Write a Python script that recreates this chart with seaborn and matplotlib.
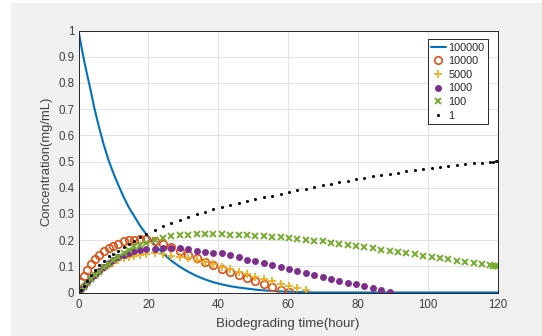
import matplotlib
matplotlib.use("Agg")
import matplotlib.pyplot as plt
import seaborn as sns
import pandas as pd

# ---- data ----
hours = [0, 0.8, 1.6, 2.5, 3.5, 4.6, 5.8, 7.2, 8.6, 10.0, 11.4, 12.9, 14.4, 16.0, 17.6, 19.4,
         21.8, 24.2, 26.6, 29.0, 31.4, 33.8, 36.2, 38.6, 41.0, 43.4, 45.8, 48.2, 50.6, 53.0,
         55.4, 57.8, 60.2, 62.6, 65.0, 67.4, 69.8, 72.2, 74.6, 77.0, 79.4, 81.8, 84.2, 86.6,
         89.0, 91.4, 93.8, 96.2, 98.6, 101.0, 103.4, 105.8, 108.2, 110.6, 113.0, 115.4, 117.8,
         118.6, 119.3, 120.0]

conc_100000 = [1.0, 0.94, 0.885, 0.83, 0.77, 0.70, 0.635, 0.565, 0.505, 0.455, 0.41, 0.365,
               0.325, 0.29, 0.255, 0.222, 0.182, 0.149, 0.121, 0.098, 0.079, 0.063, 0.050,
               0.039, 0.031, 0.024, 0.019, 0.015, 0.011, 0.008, 0.006, 0.004, 0.003, 0.002,
               0.001, 0, 0, 0, 0, 0, 0, 0, 0, 0, 0, 0, 0, 0, 0, 0, 0, 0, 0, 0, 0, 0, 0, 0,
               0, 0]

conc_10000 = [0, 0.04, 0.063, 0.086, 0.108, 0.128, 0.145, 0.157, 0.168, 0.178, 0.187, 0.195,
              0.199, 0.202, 0.204, 0.205, 0.198, 0.186, 0.175, 0.158, 0.143, 0.130, 0.118,
              0.105, 0.090, 0.078, 0.066, 0.054, 0.043, 0.031, 0.020, 0.011, 0.003]

conc_5000 = [0, 0.012, 0.025, 0.038, 0.052, 0.065, 0.078, 0.092, 0.104, 0.114, 0.123, 0.131,
             0.137, 0.141, 0.144, 0.147, 0.149, 0.146, 0.140, 0.136, 0.130, 0.123, 0.117,
             0.110, 0.099, 0.089, 0.080, 0.071, 0.061, 0.050, 0.042, 0.034, 0.026, 0.017, 0.008]

conc_1000 = [0, 0.013, 0.026, 0.040, 0.054, 0.068, 0.083, 0.099, 0.113, 0.124, 0.135, 0.145,
             0.152, 0.158, 0.162, 0.165, 0.166, 0.168, 0.169, 0.168, 0.165, 0.160, 0.156,
             0.152, 0.149, 0.143, 0.135, 0.125, 0.119, 0.112, 0.104, 0.097, 0.089, 0.081,
             0.074, 0.066, 0.058, 0.052, 0.044, 0.037, 0.031, 0.024, 0.016, 0.008, 0.002]

conc_100 = [0, 0.010, 0.022, 0.036, 0.050, 0.065, 0.080, 0.096, 0.110, 0.123, 0.136, 0.150,
            0.162, 0.173, 0.182, 0.190, 0.200, 0.209, 0.215, 0.219, 0.221, 0.222, 0.223,
            0.223, 0.222, 0.221, 0.219, 0.218, 0.217, 0.215, 0.213, 0.211, 0.208, 0.205,
            0.201, 0.198, 0.195, 0.189, 0.185, 0.181, 0.176, 0.173, 0.169, 0.164, 0.160,
            0.155, 0.150, 0.146, 0.140, 0.136, 0.132, 0.127, 0.122, 0.118, 0.114, 0.109,
            0.104, 0.102, 0.101, 0.100]

conc_1 = [0, 0.010, 0.025, 0.045, 0.065, 0.085, 0.105, 0.122, 0.138, 0.148, 0.158, 0.172,
          0.186, 0.198, 0.210, 0.222, 0.238, 0.254, 0.266, 0.277, 0.288, 0.299, 0.309, 0.318,
          0.326, 0.334, 0.342, 0.349, 0.356, 0.363, 0.370, 0.377, 0.383, 0.390, 0.396, 0.403,
          0.410, 0.416, 0.421, 0.427, 0.432, 0.438, 0.443, 0.448, 0.453, 0.458, 0.462, 0.467,
          0.471, 0.475, 0.479, 0.483, 0.487, 0.490, 0.493, 0.496, 0.499, 0.500, 0.501, 0.502]

x_ticks = [0, 20, 40, 60, 80, 100, 120]
y_ticks = [0, 0.1, 0.2, 0.3, 0.4, 0.5, 0.6, 0.7, 0.8, 0.9, 1]
y_tick_labels = ["0", "0.1", "0.2", "0.3", "0.4", "0.5", "0.6", "0.7", "0.8", "0.9", "1"]
x_label = "Biodegrading time(hour)"
y_label = "Concentration(mg/mL)"

# ---- style ----
sns.set_style("white")
plt.rcParams["font.family"] = ["Liberation Sans", "DejaVu Sans"]
axis_col = "#262626"
tick_col = "#404040"

fig = plt.figure(figsize=(5.42, 3.36), dpi=100)
fig.patch.set_facecolor("white")
# MATLAB-like grey figure area
bg = plt.Rectangle((11 / 542, 0), 1 - 11 / 542, 1 - 3 / 336, transform=fig.transFigure,
                   facecolor="#f0f0f0", edgecolor="none", zorder=-10)
fig.patches.append(bg)

ax = fig.add_axes([78.5 / 542, 43.5 / 336, (498 - 78.5) / 542, (292.5 - 30.5) / 336])
ax.set_facecolor("white")

def frame(vals):
    return pd.DataFrame({"t": hours[:len(vals)], "c": vals})

d = frame(conc_100000)
sns.lineplot(data=d, x="t", y="c", ax=ax, color="#0072BD", lw=1.5, label="100000",
             estimator=None, sort=False)
d = frame(conc_10000)
sns.lineplot(data=d, x="t", y="c", ax=ax, color="#D95319", linestyle="", marker="o",
             markersize=5.4, markerfacecolor="none", markeredgecolor="#D95319",
             markeredgewidth=1.2, label="10000", estimator=None, sort=False)
d = frame(conc_5000)
sns.lineplot(data=d, x="t", y="c", ax=ax, color="#EDB120", linestyle="", marker="+",
             markersize=5.5, markeredgewidth=1.3, markeredgecolor="#EDB120",
             label="5000", estimator=None, sort=False)
d = frame(conc_1000)
sns.lineplot(data=d, x="t", y="c", ax=ax, color="#7E2F8E", linestyle="", marker="o",
             markersize=5.0, markeredgewidth=0, markerfacecolor="#7E2F8E",
             label="1000", estimator=None, sort=False)
d = frame(conc_100)
sns.lineplot(data=d, x="t", y="c", ax=ax, color="#77AC30", linestyle="", marker="x",
             markersize=4.3, markeredgewidth=1.4, markeredgecolor="#77AC30",
             label="100", estimator=None, sort=False)
d = frame(conc_1)
sns.lineplot(data=d, x="t", y="c", ax=ax, color="black", linestyle="", marker="o",
             markersize=2.2, markeredgewidth=0, markerfacecolor="black",
             label="1", estimator=None, sort=False)

ax.set_xlim(0, 120)
ax.set_ylim(0, 1)
ax.set_xticks(x_ticks)
ax.set_xticklabels([str(v) for v in x_ticks])
ax.set_yticks(y_ticks)
ax.set_yticklabels(y_tick_labels)
ax.grid(True, color="#e3e3e3", lw=0.8)
ax.set_axisbelow(True)
ax.tick_params(axis="both", direction="in", length=3, width=0.6, color=axis_col,
               labelcolor=tick_col, labelsize=8.3)
ax.tick_params(axis="x", pad=5)
ax.tick_params(axis="y", pad=3)
for s in ax.spines.values():
    s.set_visible(True)
    s.set_color(axis_col)
    s.set_linewidth(0.7)
ax.set_xlabel(x_label, fontsize=9.6, color=tick_col, labelpad=5)
ax.set_ylabel(y_label, fontsize=9.4, color=tick_col, labelpad=4)

leg = ax.legend(loc="upper right", bbox_to_anchor=(0.975, 0.966), fontsize=7.8,
                frameon=True, fancybox=False, framealpha=1, edgecolor=axis_col,
                handlelength=1.4, handletextpad=0.2, labelspacing=0.33,
                borderpad=0.3, borderaxespad=0)
leg.get_frame().set_linewidth(0.7)

fig.savefig("out.png", dpi=100, facecolor=fig.get_facecolor())
